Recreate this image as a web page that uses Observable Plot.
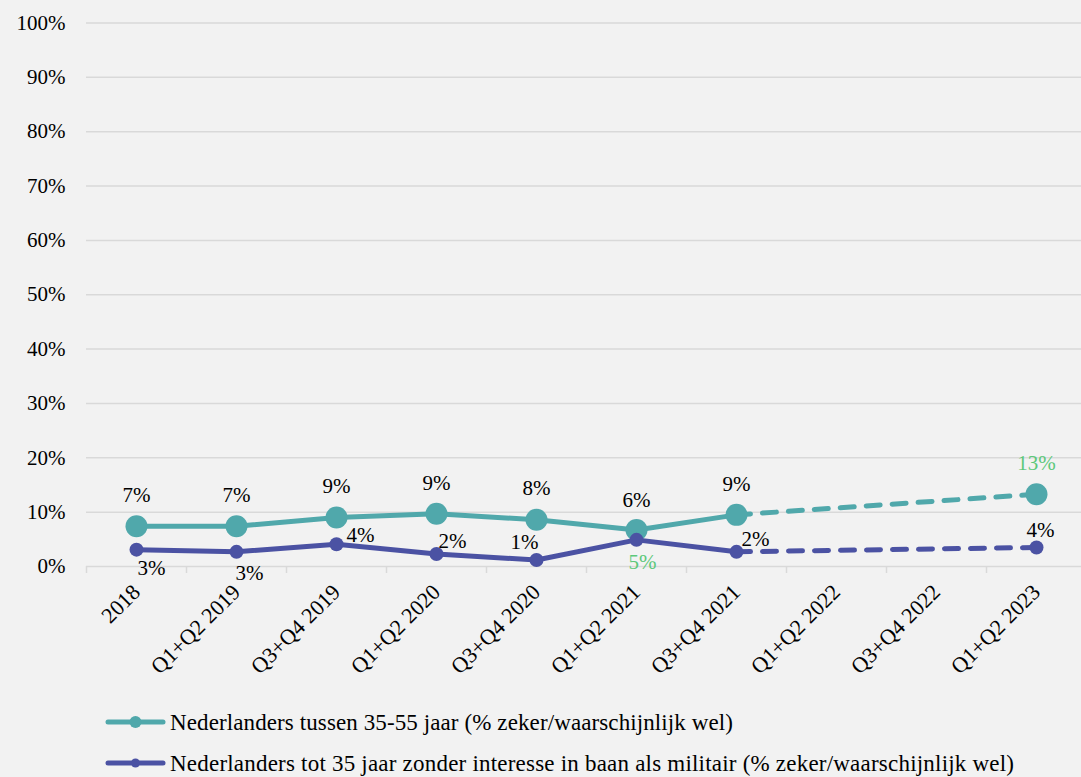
<!DOCTYPE html>
<html><head><meta charset="utf-8">
<script src="https://cdn.jsdelivr.net/npm/d3@7"></script>
<script src="https://cdn.jsdelivr.net/npm/@observablehq/plot@0.6"></script>
<style>
html,body{margin:0;padding:0;background:#f2f2f2;}
#chart svg{display:block;}
#chart svg text{font-family:'Liberation Serif','DejaVu Serif',serif;}
</style></head><body><div id="chart"></div>
<script>
const categories = ["2018","Q1+Q2 2019","Q3+Q4 2019","Q1+Q2 2020","Q3+Q4 2020","Q1+Q2 2021","Q3+Q4 2021","Q1+Q2 2022","Q3+Q4 2022","Q1+Q2 2023"];
const seriesNames = [
  "Nederlanders tussen 35-55 jaar (% zeker/waarschijnlijk wel)",
  "Nederlanders tot 35 jaar zonder interesse in baan als militair (% zeker/waarschijnlijk wel)"
];
const tealValues   = [7.4, 7.4, 9.0, 9.7, 8.6, 6.7, 9.5, null, null, 13.3];
const purpleValues = [3.1, 2.7, 4.1, 2.3, 1.2, 4.9, 2.7, null, null, 3.5];
const tealLabels   = ["7%","7%","9%","9%","8%","6%","9%",null,null,"13%"];
const purpleLabels = ["3%","3%","4%","2%","1%","5%","2%",null,null,"4%"];
const tealHighlight   = [false,false,false,false,false,false,false,false,false,true];
const purpleHighlight = [false,false,false,false,false,true,false,false,false,false];
const yTicks = [0,10,20,30,40,50,60,70,80,90,100];

// layout (label offsets in px)
const tealOffsets   = [[0,-31],[0,-31],[0,-31],[0,-31],[0,-31],[0,-30],[0,-31],null,null,[0,-31]];
const purpleOffsets = [[15,19],[13,21],[24,-9],[16,-13],[-12,-18],[6,22],[19,-13],null,null,[4,-17]];

const TEAL = "#50a8ab", PURPLE = "#4b52a3", GREEN = "#5cc87a";
const FONT = "'Liberation Serif', 'DejaVu Serif', serif";
const lastSolid = 6;

const data = categories.map((c, i) => ({i, c, teal: tealValues[i], purple: purpleValues[i]}));
const solid = data.filter(d => d.i <= lastSolid);
const dashedTeal = data.filter(d => d.i >= lastSolid && d.teal != null);
const dashedPurple = data.filter(d => d.i >= lastSolid && d.purple != null);
const tealPts = data.filter(d => d.teal != null);
const purplePts = data.filter(d => d.purple != null);

function labelMarks(key, labels, offsets, highlight) {
  return data.filter(d => labels[d.i] != null).map(d => Plot.text([d], {
    x: "i", y: key, text: () => labels[d.i],
    dx: offsets[d.i][0], dy: offsets[d.i][1],
    fill: highlight[d.i] ? GREEN : "#000", fontSize: 21, fontFamily: FONT
  }));
}

const boundaries = d3.range(-0.5, categories.length, 1);

const chart = Plot.plot({
  width: 1081, height: 695,
  marginLeft: 86, marginRight: 0, marginTop: 22, marginBottom: 129,
  style: {background: "transparent", fontFamily: FONT, fontSize: "21px", color: "#000"},
  x: {type: "linear", domain: [-0.5, categories.length - 0.5], range: [86, 1086]},
  y: {domain: [0, 100], range: [566, 22.5]},
  marks: [
    Plot.ruleY(yTicks, {stroke: "#d9d9d9", strokeWidth: 1.5}),
    Plot.axisX({ticks: boundaries, tickSize: 7, tickFormat: () => "", stroke: "#d9d9d9", strokeWidth: 1.5, label: null}),
    Plot.axisX({ticks: d3.range(categories.length), tickSize: 0, tickPadding: 22, tickRotate: -45,
      tickFormat: i => categories[i], fontSize: 22, fontFamily: FONT, fill: "#000", label: null}),
    Plot.axisY({ticks: yTicks, tickSize: 0, tickPadding: 21, tickFormat: d => d + "%", fontSize: 21, fontFamily: FONT, fill: "#000", label: null}),
    Plot.line(solid, {x: "i", y: "teal", stroke: TEAL, strokeWidth: 5, strokeLinecap: "round", strokeLinejoin: "round"}),
    Plot.line(dashedTeal, {x: "i", y: "teal", stroke: TEAL, strokeWidth: 5, strokeDasharray: "14,12", strokeLinecap: "round"}),
    Plot.dot(tealPts, {x: "i", y: "teal", r: 11, fill: TEAL}),
    Plot.line(solid, {x: "i", y: "purple", stroke: PURPLE, strokeWidth: 5, strokeLinecap: "round", strokeLinejoin: "round"}),
    Plot.line(dashedPurple, {x: "i", y: "purple", stroke: PURPLE, strokeWidth: 5, strokeDasharray: "14,12", strokeLinecap: "round"}),
    Plot.dot(purplePts, {x: "i", y: "purple", r: 7, fill: PURPLE}),
    ...labelMarks("teal", tealLabels, tealOffsets, tealHighlight),
    ...labelMarks("purple", purpleLabels, purpleOffsets, purpleHighlight)
  ]
});
document.getElementById("chart").appendChild(chart);

// legend below the plot
const legendColors = [TEAL, PURPLE];
const legendR = [6, 4.5];
const legendWidths = [563, 844];
const legendY = [27, 68];
const legend = d3.create("svg").attr("width", 1081).attr("height", 82)
  .style("display", "block").style("font-family", FONT);
seriesNames.forEach((name, k) => {
  const cy = legendY[k];
  const g = legend.append("g");
  g.append("line").attr("x1", 108).attr("x2", 163).attr("y1", cy).attr("y2", cy)
    .attr("stroke", legendColors[k]).attr("stroke-width", 5).attr("stroke-linecap", "round");
  g.append("circle").attr("cx", 135.5).attr("cy", cy).attr("r", legendR[k]).attr("fill", legendColors[k]);
  g.append("text").attr("x", 170).attr("y", cy).attr("dy", "0.35em")
    .attr("font-size", 23).attr("fill", "#000")
    .attr("textLength", legendWidths[k]).attr("lengthAdjust", "spacing")
    .text(name);
});
document.getElementById("chart").appendChild(legend.node());
</script>
</body></html>
